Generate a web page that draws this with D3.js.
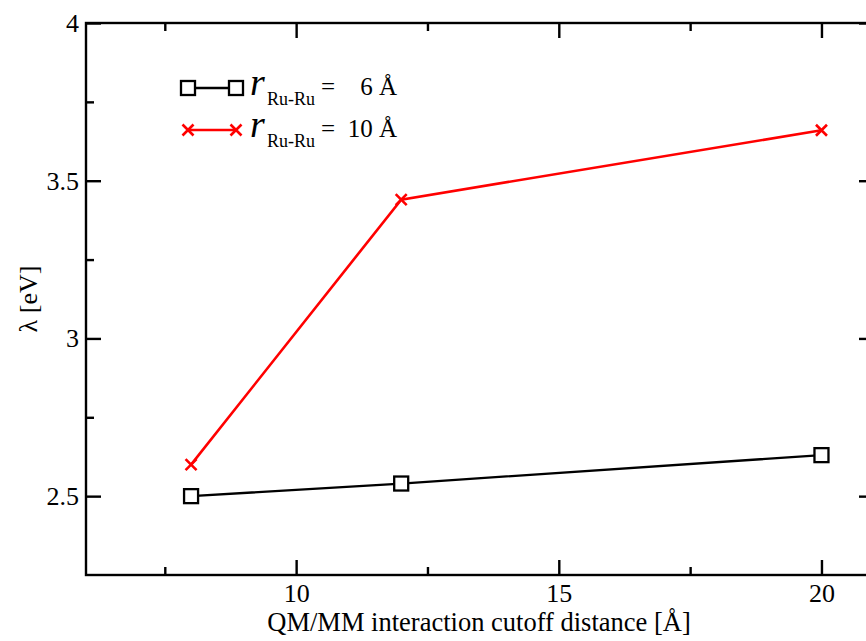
<!DOCTYPE html>
<html>
<head>
<meta charset="utf-8">
<script src="https://cdn.jsdelivr.net/npm/d3@7"></script>
<style>
  html, body { margin: 0; padding: 0; background: #fff; }
  svg { display: block; }
  svg text { font-family: "Liberation Serif", "Times New Roman", serif !important; fill: #000; }
</style>
</head>
<body>
<svg id="chart" width="866" height="641"></svg>
<script>
// Cutoff distances (Å) and reorganization energies (eV)
const cutoffs = [8, 12, 20];
const lambda6 = [2.50, 2.54, 2.63];
const lambda10 = [2.60, 3.44, 3.66];

const xMajorTicks = [10, 15, 20];
const xMinorTicks = [7.5, 12.5, 17.5];
const yMajorTicks = [2.5, 3, 3.5, 4];
const yMinorTicks = [2.75, 3.25, 3.75];

const xLabel = "QM/MM interaction cutoff distance [Å]";
const yLabel = "λ [eV]";
const legendValues = ["6 Å", "10 Å"];

const svg = d3.select("#chart");
const plotLeft = 86, plotTop = 23, plotRight = 874, plotBottom = 575;

const x = d3.scaleLinear().domain([6, 21]).range([plotLeft, plotRight]);
const y = d3.scaleLinear().domain([2.25, 4]).range([plotBottom, plotTop]);

const majorLen = 15, minorLen = 8;
const axisStroke = 2.4;

// bottom axis with inward ticks and labels
const gxb = svg.append("g").attr("transform", `translate(0,${plotBottom})`)
  .call(d3.axisBottom(x).tickValues(xMajorTicks).tickSizeInner(-majorLen)
    .tickSizeOuter(0).tickPadding(9).tickFormat(d3.format("d")));
gxb.selectAll(".tick text").attr("font-size", 26);
svg.append("g").attr("transform", `translate(0,${plotBottom})`)
  .call(d3.axisBottom(x).tickValues(xMinorTicks).tickSizeInner(-minorLen).tickSizeOuter(0).tickFormat(""));

// top axis (ticks only)
svg.append("g").attr("transform", `translate(0,${plotTop})`)
  .call(d3.axisTop(x).tickValues(xMajorTicks).tickSizeInner(-majorLen).tickSizeOuter(0).tickFormat(""));
svg.append("g").attr("transform", `translate(0,${plotTop})`)
  .call(d3.axisTop(x).tickValues(xMinorTicks).tickSizeInner(-minorLen).tickSizeOuter(0).tickFormat(""));

// left axis with labels
const gyl = svg.append("g").attr("transform", `translate(${plotLeft},0)`)
  .call(d3.axisLeft(y).tickValues(yMajorTicks).tickSizeInner(-majorLen).tickSizeOuter(0)
    .tickPadding(7).tickFormat(d3.format("")));
gyl.selectAll(".tick text").attr("font-size", 26);
svg.append("g").attr("transform", `translate(${plotLeft},0)`)
  .call(d3.axisLeft(y).tickValues(yMinorTicks).tickSizeInner(-minorLen).tickSizeOuter(0).tickFormat(""));

// right axis (ticks only)
svg.append("g").attr("transform", `translate(${plotRight},0)`)
  .call(d3.axisRight(y).tickValues(yMajorTicks).tickSizeInner(-majorLen).tickSizeOuter(0).tickFormat(""));
svg.append("g").attr("transform", `translate(${plotRight},0)`)
  .call(d3.axisRight(y).tickValues(yMinorTicks).tickSizeInner(-minorLen).tickSizeOuter(0).tickFormat(""));

svg.selectAll(".domain").remove();
svg.selectAll(".tick line").attr("stroke", "#000").attr("stroke-width", axisStroke);

// frame
svg.append("rect").attr("x", plotLeft).attr("y", plotTop)
  .attr("width", plotRight - plotLeft).attr("height", plotBottom - plotTop)
  .attr("fill", "none").attr("stroke", "#000").attr("stroke-width", axisStroke);

// axis titles
svg.append("text").attr("x", 479).attr("y", 631)
  .attr("text-anchor", "middle").attr("font-size", 26.5).text(xLabel);
svg.append("text").attr("transform", `translate(37,299) rotate(-90)`)
  .attr("text-anchor", "middle").attr("font-size", 26).text(yLabel);

// series
const line = d3.line().x(d => x(d[0])).y(d => y(d[1]));
const black = cutoffs.map((c, i) => [c, lambda6[i]]);
const red = cutoffs.map((c, i) => [c, lambda10[i]]);

svg.append("path").datum(red).attr("d", line).attr("fill", "none")
  .attr("stroke", "#ff0000").attr("stroke-width", 2.6);
svg.append("path").datum(black).attr("d", line).attr("fill", "none")
  .attr("stroke", "#000").attr("stroke-width", 2.3);

function squareMarker(g, cx, cy) {
  g.append("rect").attr("x", cx - 7).attr("y", cy - 7).attr("width", 14).attr("height", 14)
    .attr("fill", "#fff").attr("stroke", "#000").attr("stroke-width", 2.3);
}
function crossMarker(g, cx, cy) {
  const s = 5.5;
  g.append("path").attr("d", `M${cx - s},${cy - s}L${cx + s},${cy + s}M${cx - s},${cy + s}L${cx + s},${cy - s}`)
    .attr("stroke", "#ff0000").attr("stroke-width", 2.6).attr("fill", "none");
}
const marks = svg.append("g");
red.forEach(d => crossMarker(marks, x(d[0]), y(d[1])));
black.forEach(d => squareMarker(marks, x(d[0]), y(d[1])));

// legend
const legend = svg.append("g");
const legendRows = [
  { y: 88, color: "#000", width: 2.3, marker: squareMarker },
  { y: 130, color: "#ff0000", width: 2.6, marker: crossMarker }
];
legendRows.forEach((r, i) => {
  legend.append("line").attr("x1", 188).attr("x2", 236).attr("y1", r.y).attr("y2", r.y)
    .attr("stroke", r.color).attr("stroke-width", r.width);
  r.marker(legend, 188, r.y);
  r.marker(legend, 236, r.y);
  const base = r.y + 7;
  legend.append("text").attr("x", 250).attr("y", base)
    .attr("font-size", 38).attr("font-style", "italic").text("r");
  legend.append("text").attr("x", 267).attr("y", base + 10)
    .attr("font-size", 18).text("Ru-Ru");
  legend.append("text").attr("x", 321).attr("y", base)
    .attr("font-size", 25).text("=");
  legend.append("text").attr("x", 397).attr("y", base)
    .attr("font-size", 25).attr("text-anchor", "end").text(legendValues[i]);
});
</script>
</body>
</html>
